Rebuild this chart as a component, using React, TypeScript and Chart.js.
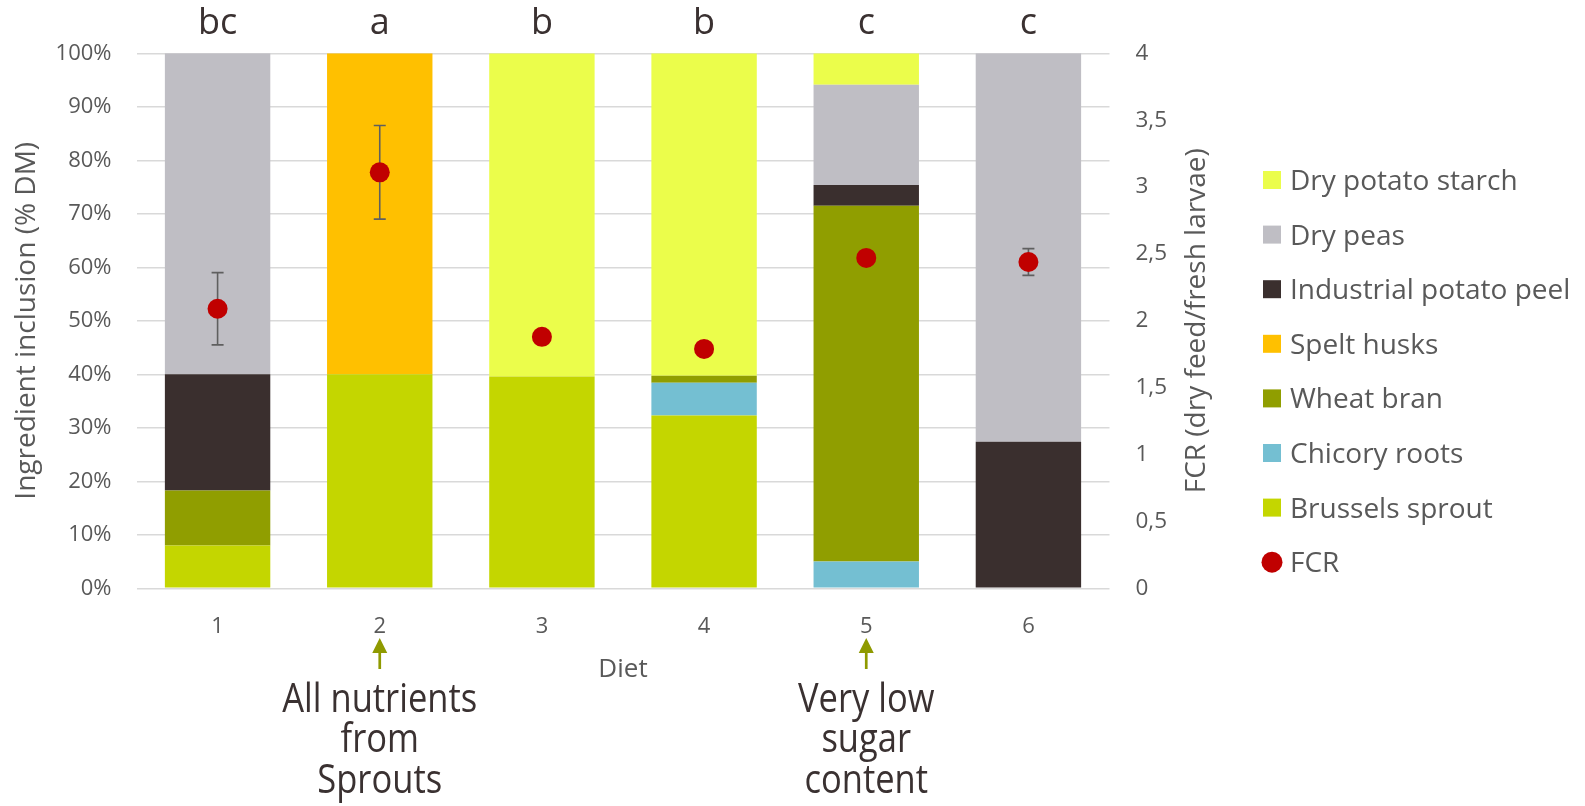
import { useEffect, useRef } from 'react';
import { Chart, registerables } from 'chart.js';

Chart.register(...registerables);

// Diet composition (% of dry matter) per ingredient, stacked bottom to top
const diets = ['1', '2', '3', '4', '5', '6'];
const groupLetters = ['bc', 'a', 'b', 'b', 'c', 'c'];
const brusselsSprout = [8, 40, 39.6, 32.3, 0, 0];
const chicoryRoots = [0, 0, 0, 6.1, 5, 0];
const wheatBran = [10.3, 0, 0, 1.35, 66.5, 0];
const speltHusks = [0, 60, 0, 0, 0, 0];
const potatoPeel = [21.7, 0, 0, 0, 3.9, 27.4];
const dryPeas = [60, 0, 0, 0, 18.7, 72.6];
const potatoStarch = [0, 0, 60.4, 60.25, 5.9, 0];

// Feed conversion ratio (dry feed / fresh larvae) with its spread
const fcr = [2.09, 3.11, 1.88, 1.79, 2.47, 2.44];
const fcrError = [0.27, 0.35, 0, 0, 0, 0.1];

const notes = [
  { diet: 1, lines: ['All nutrients', 'from', 'Sprouts'] },
  { diet: 4, lines: ['Very low', 'sugar', 'content'] },
];

const FONT = '"Open Sans", "Noto Sans", sans-serif';
const GREY_TEXT = '#595959';
const DARK_TEXT = '#3a3131';
const ARROW = '#8f9a00';

const overlay = {
  id: 'overlay',
  beforeDatasetDraw(chart: any, args: any) {
    const ds = chart.data.datasets[args.index];
    if (ds.type !== 'line') return;
    const { ctx } = chart;
    const x = chart.scales.x;
    const y1 = chart.scales.y1;
    ctx.save();
    ctx.strokeStyle = '#5f5f5f';
    ctx.lineWidth = 1.6;
    fcr.forEach((v, i) => {
      const e = fcrError[i];
      if (!e) return;
      const px = x.getPixelForValue(i);
      const top = y1.getPixelForValue(v + e);
      const bot = y1.getPixelForValue(v - e);
      ctx.beginPath();
      ctx.moveTo(px, top);
      ctx.lineTo(px, bot);
      ctx.moveTo(px - 6, top);
      ctx.lineTo(px + 6, top);
      ctx.moveTo(px - 6, bot);
      ctx.lineTo(px + 6, bot);
      ctx.stroke();
    });
    ctx.restore();
  },
  afterDraw(chart: any) {
    const { ctx, chartArea } = chart;
    const x = chart.scales.x;
    ctx.save();

    // significance letters above each bar
    ctx.fillStyle = DARK_TEXT;
    ctx.font = `36px ${FONT}`;
    ctx.textAlign = 'center';
    ctx.textBaseline = 'middle';
    groupLetters.forEach((t, i) => {
      ctx.fillText(t, x.getPixelForValue(i), 24);
    });

    // right axis title, reading bottom to top
    ctx.save();
    ctx.fillStyle = GREY_TEXT;
    ctx.font = `28px ${FONT}`;
    ctx.translate(1197, (chartArea.top + chartArea.bottom) / 2);
    ctx.rotate(-Math.PI / 2);
    ctx.fillText('FCR (dry feed/fresh larvae)', 0, 0);
    ctx.restore();

    // arrows and notes under diets 2 and 5
    notes.forEach((n) => {
      const px = x.getPixelForValue(n.diet);
      ctx.strokeStyle = ARROW;
      ctx.fillStyle = ARROW;
      ctx.lineWidth = 2.7;
      ctx.beginPath();
      ctx.moveTo(px, 669);
      ctx.lineTo(px, 650);
      ctx.stroke();
      ctx.beginPath();
      ctx.moveTo(px, 638);
      ctx.lineTo(px - 7.5, 653);
      ctx.lineTo(px + 7.5, 653);
      ctx.closePath();
      ctx.fill();

      ctx.fillStyle = DARK_TEXT;
      ctx.font = `41px ${FONT}`;
      n.lines.forEach((line, k) => {
        ctx.save();
        ctx.translate(px, 700 + k * 40.5);
        ctx.scale(0.842, 1);
        ctx.fillText(line, 0, 0);
        ctx.restore();
      });
    });

    // legend: stacked series listed top to bottom, then FCR
    const items = chart.data.datasets
      .filter((d: any) => d.type !== 'line')
      .slice()
      .reverse()
      .concat(chart.data.datasets.filter((d: any) => d.type === 'line'));
    ctx.font = `28px ${FONT}`;
    ctx.textAlign = 'left';
    items.forEach((d: any, k: number) => {
      const cy = 180 + k * 54.6;
      ctx.fillStyle = d.backgroundColor;
      if (d.type === 'line') {
        ctx.beginPath();
        ctx.arc(1272, cy, 10.5, 0, Math.PI * 2);
        ctx.fill();
      } else {
        ctx.fillRect(1263, cy - 9, 18, 18);
      }
      ctx.fillStyle = GREY_TEXT;
      ctx.fillText(d.label, 1290, cy + 2);
    });

    ctx.restore();
  },
};

export default function App() {
  const canvasRef = useRef<HTMLCanvasElement>(null);

  useEffect(() => {
    if (!canvasRef.current) return;
    const bar = (label: string, data: number[], color: string) => ({
      type: 'bar' as const,
      label,
      data,
      backgroundColor: color,
      borderWidth: 0,
      yAxisID: 'y',
      order: 1,
      barPercentage: 0.65,
      categoryPercentage: 1,
    });

    const chart = new Chart(canvasRef.current, {
      type: 'bar',
      data: {
        labels: diets,
        datasets: [
          bar('Brussels sprout', brusselsSprout, '#c4d600'),
          bar('Chicory roots', chicoryRoots, '#74bfd2'),
          bar('Wheat bran', wheatBran, '#909e00'),
          bar('Spelt husks', speltHusks, '#ffc000'),
          bar('Industrial potato peel', potatoPeel, '#3a2f2e'),
          bar('Dry peas', dryPeas, '#bfbec4'),
          bar('Dry potato starch', potatoStarch, '#ebfd4b'),
          {
            type: 'line' as const,
            label: 'FCR',
            data: fcr,
            yAxisID: 'y1',
            showLine: false,
            backgroundColor: '#c00000',
            borderColor: '#c00000',
            pointRadius: 10,
            pointHoverRadius: 10,
            pointBorderWidth: 0,
            order: 0,
          } as any,
        ],
      },
      options: {
        animation: false,
        responsive: true,
        maintainAspectRatio: false,
        layout: { padding: { top: 53.3, left: 0, right: 0, bottom: 0 } },
        plugins: {
          legend: { display: false },
          tooltip: { enabled: false },
        },
        scales: {
          x: {
            stacked: true,
            grid: { display: false, drawTicks: false },
            border: { display: false },
            ticks: {
              color: GREY_TEXT,
              font: { family: FONT, size: 22 },
              padding: 25,
            },
            title: {
              display: true,
              text: 'Diet',
              color: GREY_TEXT,
              font: { family: FONT, size: 26 },
              padding: { top: 0, bottom: 120.8 },
            },
            afterFit(scale: any) {
              scale.height = 806 - 588.3;
            },
          },
          y: {
            stacked: true,
            position: 'left',
            min: 0,
            max: 100,
            grid: { color: '#d9d9d9', lineWidth: 1.5, drawTicks: false },
            border: { display: false },
            ticks: {
              stepSize: 10,
              color: GREY_TEXT,
              font: { family: FONT, size: 22 },
              padding: 25,
              callback: (v: any) => `${v}%`,
            },
            title: {
              display: true,
              text: 'Ingredient inclusion (% DM)',
              color: GREY_TEXT,
              font: { family: FONT, size: 28 },
              padding: { top: 10.2, bottom: 0 },
            },
            afterFit(scale: any) {
              scale.width = 136.5;
            },
          },
          y1: {
            position: 'right',
            min: 0,
            max: 4,
            grid: { display: false, drawTicks: false },
            border: { display: false },
            ticks: {
              stepSize: 0.5,
              color: GREY_TEXT,
              font: { family: FONT, size: 22.5 },
              padding: 26,
              callback: (v: any) => String(v).replace('.', ','),
            },
            afterFit(scale: any) {
              scale.width = 1585 - 1109.5;
            },
          },
        },
      },
      plugins: [overlay],
    });
    return () => chart.destroy();
  }, []);

  return (
    <div
      style={{
        position: 'fixed',
        left: 0,
        top: 0,
        width: 1585,
        height: 806,
        background: '#ffffff',
      }}
    >
      <canvas ref={canvasRef} />
    </div>
  );
}
